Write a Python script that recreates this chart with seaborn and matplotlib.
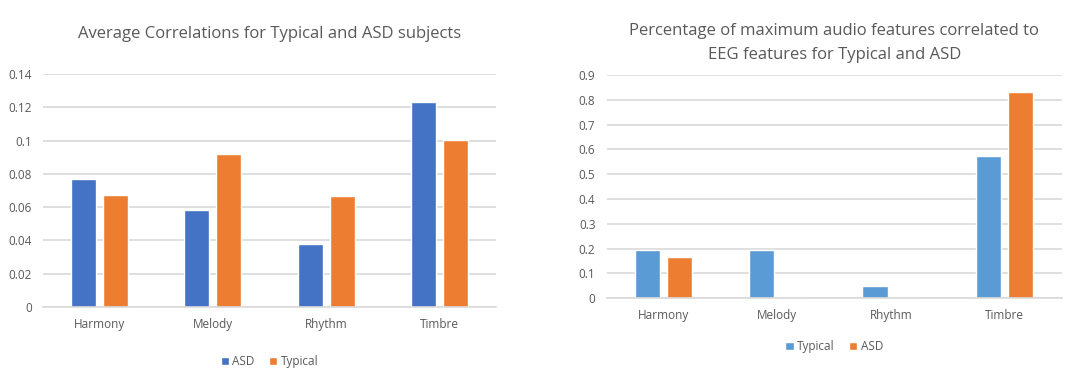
import matplotlib
matplotlib.use("Agg")
import matplotlib.pyplot as plt
import pandas as pd
import seaborn as sns

# Data
categories = ["Harmony", "Melody", "Rhythm", "Timbre"]

avg_asd = [0.0772, 0.0586, 0.038, 0.1232]
avg_typical = [0.0672, 0.092, 0.0666, 0.1004]

pct_typical = [0.193, 0.193, 0.05, 0.573]
pct_asd = [0.167, 0.0, 0.0, 0.834]

left_ticks = [0, 0.02, 0.04, 0.06, 0.08, 0.1, 0.12, 0.14]
left_tick_labels = ["0", "0.02", "0.04", "0.06", "0.08", "0.1", "0.12", "0.14"]
right_ticks = [0, 0.1, 0.2, 0.3, 0.4, 0.5, 0.6, 0.7, 0.8, 0.9]
right_tick_labels = ["0", "0.1", "0.2", "0.3", "0.4", "0.5", "0.6", "0.7", "0.8", "0.9"]

sns.set_theme(style="white")
plt.rcParams["font.family"] = ["Open Sans", "DejaVu Sans"]

TEXT = "#595959"
GRID = "#D9D9D9"

left_df = pd.DataFrame({
    "category": categories * 2,
    "value": avg_asd + avg_typical,
    "group": ["ASD"] * 4 + ["Typical"] * 4,
})
right_df = pd.DataFrame({
    "category": categories * 2,
    "value": pct_typical + pct_asd,
    "group": ["Typical"] * 4 + ["ASD"] * 4,
})

fig = plt.figure(figsize=(10.66, 3.74), dpi=100)
ax1 = fig.add_axes([0.0403, 0.179, 0.425, 0.623])
ax2 = fig.add_axes([0.569, 0.203, 0.427, 0.596])


def style_axis(ax, ticks, labels):
    ax.set_xlim(-0.5, 3.5)
    ax.set_ylim(0, ticks[-1])
    ax.set_yticks(ticks)
    ax.set_yticklabels(labels)
    ax.yaxis.grid(True, color=GRID, linewidth=1.2)
    ax.set_axisbelow(True)
    for s in ["top", "right", "left"]:
        ax.spines[s].set_visible(False)
    ax.spines["bottom"].set_color(GRID)
    ax.spines["bottom"].set_linewidth(1.2)
    ax.tick_params(axis="both", length=0, labelsize=8.5, colors=TEXT, pad=8)
    ax.set_xlabel("")
    ax.set_ylabel("")


sns.barplot(data=left_df, x="category", y="value", hue="group",
            palette={"ASD": "#4472C4", "Typical": "#ED7D31"},
            width=0.566, gap=0.22, ax=ax1, legend=True, saturation=1)
style_axis(ax1, left_ticks, left_tick_labels)
ax1.set_title("Average Correlations for Typical and ASD subjects",
              fontsize=12, color=TEXT, pad=26)
ax1.legend(loc="upper center", bbox_to_anchor=(0.5, -0.16), ncol=2,
           frameon=False, fontsize=8.5, labelcolor=TEXT, handlelength=0.7,
           handleheight=0.7, handletextpad=0.3, columnspacing=1.2)

sns.barplot(data=right_df, x="category", y="value", hue="group",
            palette={"Typical": "#5B9BD5", "ASD": "#ED7D31"},
            width=0.566, gap=0.22, ax=ax2, legend=True, saturation=1)
style_axis(ax2, right_ticks, right_tick_labels)
ax2.set_title("Percentage of maximum audio features correlated to\nEEG features for Typical and ASD",
              fontsize=12, color=TEXT, pad=12, linespacing=1.6)
ax2.legend(loc="upper center", bbox_to_anchor=(0.5, -0.14), ncol=2,
           frameon=False, fontsize=8.5, labelcolor=TEXT, handlelength=0.7,
           handleheight=0.7, handletextpad=0.3, columnspacing=1.2)

fig.savefig("out.png", dpi=100)
